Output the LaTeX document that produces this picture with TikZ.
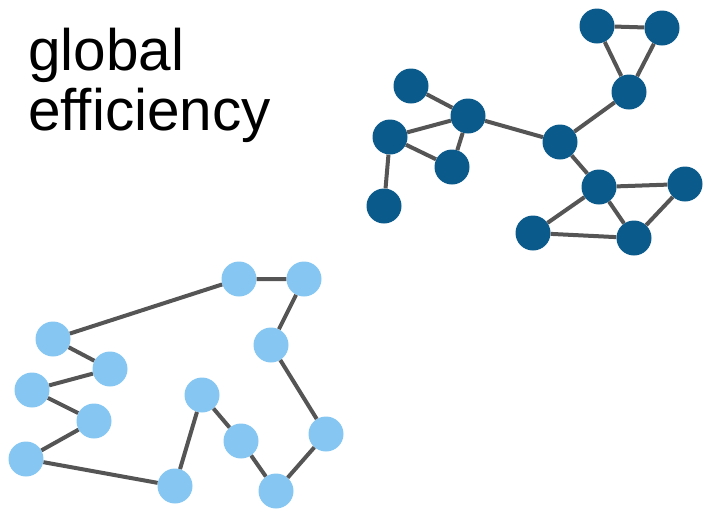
\documentclass[tikz,border=0pt]{standalone}
\usepackage{fontspec}
\setmainfont{Liberation Sans}
\usepackage{tikz}

\definecolor{darkblue}{HTML}{0B5A8C}
\definecolor{lightblue}{HTML}{85C7F2}
\definecolor{edgegray}{HTML}{555555}

\begin{document}
\begin{tikzpicture}[x=1pt, y=-1pt,
  dnode/.style={circle, fill=darkblue, minimum size=35pt, inner sep=0pt},
  lnode/.style={circle, fill=lightblue, minimum size=35pt, inner sep=0pt},
  edge/.style={draw=edgegray, line width=4pt}]
\useasboundingbox (0,0) rectangle (709,523);

\node[anchor=base west, inner sep=0pt, font=\fontsize{58.5}{60}\selectfont] (t1) at (28,70) {global};
\node[anchor=base west, inner sep=0pt, font=\fontsize{58.5}{60}\selectfont] (t2) at (28,130) {efficiency};

% the dark, well connected network
\node[dnode] (A) at (597,26) {};
\node[dnode] (B) at (662,28) {};
\node[dnode] (C) at (629,92) {};
\node[dnode] (D) at (411,86) {};
\node[dnode] (E) at (468,116) {};
\node[dnode] (F) at (390,137) {};
\node[dnode] (G) at (452,167) {};
\node[dnode] (H) at (560,142) {};
\node[dnode] (I) at (384,206) {};
\node[dnode] (J) at (599,187) {};
\node[dnode] (K) at (685,184) {};
\node[dnode] (L) at (533,233) {};
\node[dnode] (M) at (634,238) {};

\draw[edge] (A) -- (B) (A) -- (C) (B) -- (C) (C) -- (H); % top triangle and its link
\draw[edge] (D) -- (E) (E) -- (F) (E) -- (G) (F) -- (G) (F) -- (I) (E) -- (H);
\draw[edge] (H) -- (J) (J) -- (K) (J) -- (L) (J) -- (M) (K) -- (M) (L) -- (M);

% the light network, a long chain
\node[lnode] (a) at (239,279) {};
\node[lnode] (b) at (304,279) {};
\node[lnode] (c) at (271,345) {};
\node[lnode] (d) at (53,339) {};
\node[lnode] (e) at (110,369) {};
\node[lnode] (f) at (32,390) {};
\node[lnode] (g) at (94,421) {};
\node[lnode] (h) at (26,459) {};
\node[lnode] (i) at (175,486) {};
\node[lnode] (j) at (202,395) {};
\node[lnode] (k) at (241,441) {};
\node[lnode] (l) at (276,491) {};
\node[lnode] (m) at (326,434) {};

\draw[edge] (c) -- (b) -- (a) -- (d) -- (e) -- (f) -- (g) -- (h); % chain, first half
\draw[edge] (h) -- (i) -- (j) -- (k) -- (l) -- (m) -- (c);
\end{tikzpicture}
\end{document}
